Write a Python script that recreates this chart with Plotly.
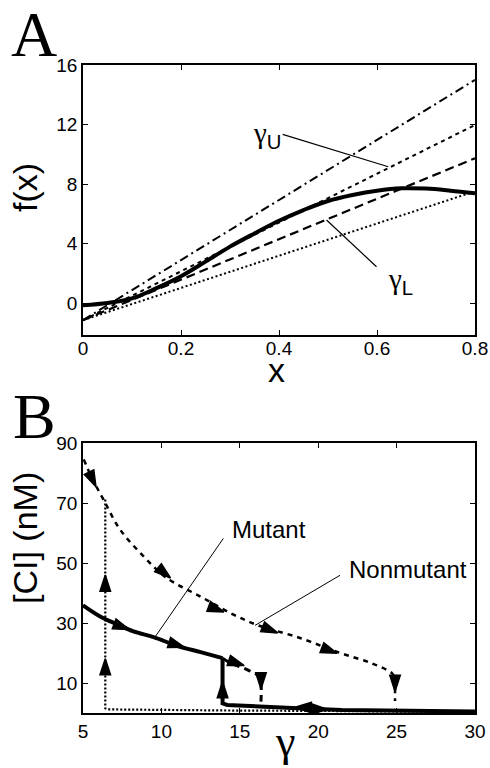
import plotly.graph_objects as go

# ---------------- Panel A data ----------------
xa = [0, 0.05, 0.1, 0.15, 0.2, 0.25, 0.3, 0.35, 0.4, 0.45, 0.5, 0.55, 0.6, 0.65, 0.7, 0.75, 0.8]
fa = [-0.15, 0.0, 0.31, 1.0, 1.8, 2.78, 3.79, 4.68, 5.53, 6.25, 6.86, 7.26, 7.55, 7.71, 7.69, 7.55, 7.37]

# straight lines, endpoints
line_dashdot_x = [0, 0.8]
line_dashdot_y = [-1.15, 15.0]
line_upper_x = [0, 0.8]          # gamma_U tangent (short dashes)
line_upper_y = [-1.15, 11.97]
line_lower_x = [0, 0.8]          # gamma_L tangent (long dashes)
line_lower_y = [-1.15, 9.73]
line_dotted_x = [0, 0.79]
line_dotted_y = [-1.15, 7.4]

a_xticks = [0, 0.2, 0.4, 0.6, 0.8]
a_xticktext = ["0", "0.2", "0.4", "0.6", "0.8"]
a_yticks = [0, 4, 8, 12, 16]

# ---------------- Panel B data ----------------
nonmut_x = [5.05, 5.6, 6.3, 7.36, 8.85, 10.34, 12.46, 14.6, 16.08, 18.84, 21.4, 23.4, 24.7, 24.9]
nonmut_y = [84.5, 78.0, 71.2, 61.2, 52.3, 45.0, 38.9, 32.8, 29.4, 25.0, 20.0, 16.6, 13.3, 11.6]
nonmut_drop_x = [24.9, 24.9]
nonmut_drop_y = [11.6, 4.0]

mut_x = [5.0, 6.09, 7.2, 8.22, 9.5, 11.0, 12.5, 13.9]
mut_y = [35.9, 32.2, 29.5, 27.2, 25.3, 22.4, 20.3, 18.3]
mut_ext_x = [13.9, 14.42, 15.49, 16.24, 16.35, 16.35]
mut_ext_y = [18.3, 16.6, 14.4, 12.1, 9.9, 3.8]
mut_low_x = [13.9, 13.9, 14.2, 16.5, 18.7, 21.5, 25.0, 30.0]
mut_low_y = [18.3, 3.2, 2.7, 2.0, 1.6, 1.0, 0.7, 0.5]

dot_x = [6.42, 6.42, 6.6, 8.0, 11.0, 15.0, 20.0, 25.0, 30.0]
dot_y = [71.2, 1.6, 1.2, 1.1, 0.9, 0.8, 0.7, 0.5, 0.3]

# arrowheads: centre (x, y) and a point behind it on the curve (sets direction)
arrow_x = [5.83, 10.58, 13.99, 17.41, 21.2, 24.9, 7.95, 11.47, 13.9, 15.28, 16.35, 18.53, 20.6, 6.42, 6.42]
arrow_y = [75.4, 45.0, 33.7, 26.7, 19.9, 7.2, 27.8, 21.9, 10.5, 15.8, 8.0, 1.9, 1.2, 18.1, 46.0]
arrow_from_x = [5.5, 10.0, 13.3, 16.8, 20.5, 24.9, 7.2, 10.8, 13.9, 14.7, 16.35, 19.2, 19.9, 6.42, 6.42]
arrow_from_y = [79.0, 47.5, 35.0, 28.0, 21.3, 11.0, 29.3, 23.0, 6.0, 16.8, 11.0, 1.85, 1.3, 13.0, 41.0]

b_xticks = [5, 10, 15, 20, 25, 30]
b_yticks = [10, 30, 50, 70, 90]

W, H = 490, 768
SANS = "Liberation Sans, Arial, sans-serif"
SERIF = "Liberation Serif, Times New Roman, serif"


def dom_x(p0, p1):
    return [p0 / W, p1 / W]


def dom_y(top, bottom):
    return [1 - bottom / H, 1 - top / H]


fig = go.Figure()

# Panel A traces
fig.add_trace(go.Scatter(x=line_dashdot_x, y=line_dashdot_y, mode="lines",
                         line=dict(color="black", width=2, dash="9px,4px,2px,4px"), xaxis="x", yaxis="y"))
fig.add_trace(go.Scatter(x=line_upper_x, y=line_upper_y, mode="lines",
                         line=dict(color="black", width=2, dash="4px,4px"), xaxis="x", yaxis="y"))
fig.add_trace(go.Scatter(x=line_lower_x, y=line_lower_y, mode="lines",
                         line=dict(color="black", width=2.2, dash="9px,5px"), xaxis="x", yaxis="y"))
fig.add_trace(go.Scatter(x=line_dotted_x, y=line_dotted_y, mode="lines",
                         line=dict(color="black", width=2, dash="2px,2.5px"), xaxis="x", yaxis="y"))
fig.add_trace(go.Scatter(x=xa, y=fa, mode="lines", line=dict(color="black", width=4, shape="spline"),
                         xaxis="x", yaxis="y"))

# Panel B traces
fig.add_trace(go.Scatter(x=nonmut_x, y=nonmut_y, mode="lines",
                         line=dict(color="black", width=2.5, dash="5px,5px", shape="spline"),
                         xaxis="x2", yaxis="y2"))
fig.add_trace(go.Scatter(x=nonmut_drop_x, y=nonmut_drop_y, mode="lines",
                         line=dict(color="black", width=2.5, dash="5px,5px"), xaxis="x2", yaxis="y2"))
fig.add_trace(go.Scatter(x=dot_x, y=dot_y, mode="lines",
                         line=dict(color="black", width=2.2, dash="2px,2px"), xaxis="x2", yaxis="y2"))
fig.add_trace(go.Scatter(x=mut_ext_x, y=mut_ext_y, mode="lines",
                         line=dict(color="black", width=3, dash="7px,5px", shape="spline"),
                         xaxis="x2", yaxis="y2"))
fig.add_trace(go.Scatter(x=mut_x, y=mut_y, mode="lines",
                         line=dict(color="black", width=4, shape="spline"), xaxis="x2", yaxis="y2"))
fig.add_trace(go.Scatter(x=mut_low_x, y=mut_low_y, mode="lines",
                         line=dict(color="black", width=4), xaxis="x2", yaxis="y2"))

# arrowheads as markers oriented along the path
for cx, cy, fx, fy in zip(arrow_x, arrow_y, arrow_from_x, arrow_from_y):
    fig.add_trace(go.Scatter(x=[fx, cx], y=[fy, cy], mode="markers",
                             marker=dict(symbol="arrow", size=[0, 17], color="black", opacity=1,
                                         angleref="previous", line=dict(width=1.5, color="black")),
                             xaxis="x2", yaxis="y2", hoverinfo="skip"))

# pointer lines
shapes = [
    dict(type="line", xref="x", yref="y", x0=0.4075, y0=11.34, x1=0.623, y1=9.16,
         line=dict(color="black", width=1.2)),
    dict(type="line", xref="x", yref="y", x0=0.497, y0=5.58, x1=0.599, y1=2.44,
         line=dict(color="black", width=1.2)),
    dict(type="line", xref="x2", yref="y2", x0=13.95, y0=58.2, x1=9.59, y1=25.3,
         line=dict(color="black", width=1)),
    dict(type="line", xref="x2", yref="y2", x0=21.39, y0=45.9, x1=15.97, y1=29.2,
         line=dict(color="black", width=1)),
]

C = dict(xanchor="center", yanchor="middle", showarrow=False)
annotations = [
    dict(x=0.408, y=11.3, xref="x", yref="y", xanchor="right", yanchor="middle", showarrow=False,
         text="γ<sub><span style='font-family:Liberation Sans'>U</span></sub>",
         font=dict(family=SERIF, size=29, color="black")),
    dict(x=0.618, y=1.5, xref="x", yref="y", xanchor="left", yanchor="middle", showarrow=False,
         text="γ<sub><span style='font-family:Liberation Sans'>L</span></sub>",
         font=dict(family=SERIF, size=29, color="black")),
    dict(x=14.37, y=61.2, xref="x2", yref="y2", xanchor="left", yanchor="middle", showarrow=False,
         text="Mutant", font=dict(family=SANS, size=24, color="black")),
    dict(x=21.85, y=48.0, xref="x2", yref="y2", xanchor="left", yanchor="middle", showarrow=False,
         text="Nonmutant", font=dict(family=SANS, size=24, color="black")),
    # panel letters
    dict(x=34 / W, y=1 - 34 / H, xref="paper", yref="paper", text="A",
         font=dict(family=SERIF, size=64, color="black"), **C),
    dict(x=34 / W, y=1 - 416 / H, xref="paper", yref="paper", text="B",
         font=dict(family=SERIF, size=64, color="black"), **C),
    # axis titles
    dict(x=25 / W, y=1 - 188 / H, xref="paper", yref="paper", text="f(x)", textangle=-90,
         font=dict(family=SANS, size=34, color="black"), **C),
    dict(x=276 / W, y=1 - 370 / H, xref="paper", yref="paper", text="x",
         font=dict(family=SANS, size=34, color="black"), **C),
    dict(x=25 / W, y=1 - 538 / H, xref="paper", yref="paper", text="[CI] (nM)", textangle=-90,
         font=dict(family=SANS, size=34, color="black"), **C),
    dict(x=285 / W, y=0, xref="paper", yref="paper", text="γ", xanchor="center", yanchor="bottom",
         showarrow=False, font=dict(family=SERIF, size=44, color="black")),
]

axis_common = dict(showline=True, linecolor="black", linewidth=1.6, mirror="ticks", ticks="inside",
                   ticklen=5, tickwidth=1, tickcolor="black", showgrid=False, zeroline=False,
                   automargin=False, tickfont=dict(family=SANS, size=19, color="black"))

fig.update_layout(
    width=W, height=H, margin=dict(l=0, r=0, t=0, b=0, pad=0, autoexpand=False),
    paper_bgcolor="white", plot_bgcolor="white", showlegend=False,
    xaxis=dict(domain=dom_x(83, 475), range=[0, 0.8], tickvals=a_xticks, ticktext=a_xticktext,
               anchor="y", ticklabelstandoff=-5, **axis_common),
    yaxis=dict(domain=dom_y(65, 335), range=[-2.15, 16], tickvals=a_yticks, anchor="x", **axis_common),
    xaxis2=dict(domain=dom_x(83, 475), range=[5, 30], tickvals=b_xticks, anchor="y2", **axis_common),
    yaxis2=dict(domain=dom_y(443, 713), range=[0, 90], tickvals=b_yticks, anchor="x2", **axis_common),
    annotations=annotations, shapes=shapes,
)

fig.write_html("out.html", config={"displayModeBar": False},
               post_script="document.body.style.margin='0';document.body.style.overflow='hidden';")
